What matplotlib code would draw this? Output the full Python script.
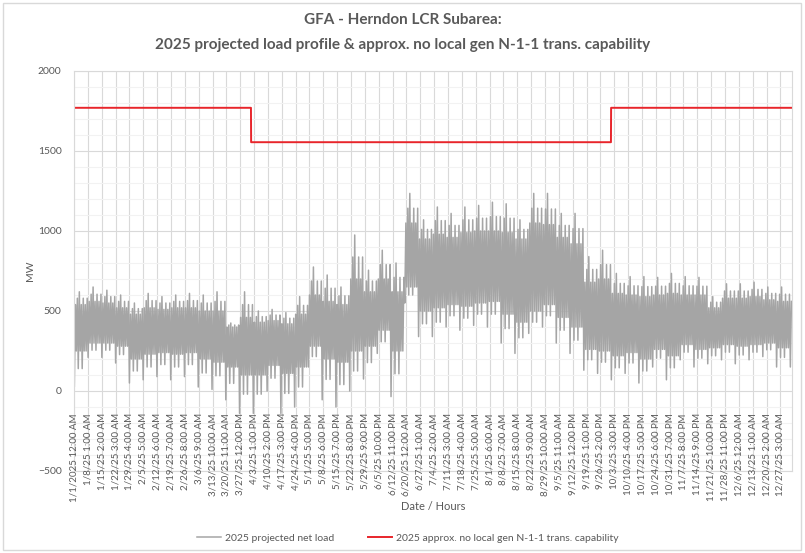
import numpy as np
import matplotlib
matplotlib.use("Agg")
import matplotlib.pyplot as plt
from matplotlib.patches import Rectangle

plt.rcParams['font.family'] = ['Lato', 'DejaVu Sans']

# weekly readings of the hourly net load (MW), week 1 .. week 52
hi_max = [620, 650, 630, 600, 550, 610, 590, 600, 610, 600, 620, 425, 620,
          500, 510, 490, 590, 775, 725, 650, 975, 755, 880, 800, 1235, 1070,
          1150, 1110, 1150, 1160, 1180, 1170, 1070, 1235, 1235, 1110, 1110, 840,
          880, 735, 715, 715, 710, 735, 715, 710, 590, 670, 670, 680, 650, 650]
hi_typ = [540, 560, 550, 520, 480, 520, 510, 520, 520, 500, 500, 400, 460,
          430, 440, 420, 480, 600, 560, 540, 700, 620, 700, 620, 1050, 950,
          980, 960, 990, 1000, 1000, 990, 950, 1050, 1040, 960, 920, 680,
          700, 610, 600, 590, 600, 610, 600, 600, 520, 580, 580, 590, 570, 560]
lo_typ = [250, 300, 300, 280, 200, 230, 240, 230, 240, 200, 180, 150, 100,
          100, 160, 110, 150, 280, 200, 180, 250, 280, 380, 250, 650, 500,
          520, 540, 530, 550, 560, 480, 430, 500, 540, 460, 400, 260,
          250, 220, 240, 200, 260, 220, 290, 260, 270, 290, 280, 290, 300, 270]
lo_min = [30, 210, 210, 175, 50, 70, 90, 70, 90, 25, 10, -55, -140,
          -140, 0, -140, -100, 150, -55, -100, 0, 75, 235, -35, 550, 340,
          340, 400, 380, 410, 400, 300, 235, 360, 400, 300, 235, 130,
          110, 70, 110, 50, 150, 70, 195, 150, 170, 195, 170, 195, 215, 150]

# monthly N-1-1 transmission capability (MW)
month_hours = [744, 672, 744, 720, 744, 720, 744, 744, 720, 744, 720, 744]
capability = [1770, 1770, 1770, 1555, 1555, 1555, 1555, 1555, 1555, 1770, 1770, 1770]

tick_labels = ["1/1/2025 12:00 AM", "1/8/25 1:00 AM", "1/15/25 2:00 AM", "1/22/25 3:00 AM",
               "1/29/25 4:00 AM", "2/5/25 5:00 AM", "2/12/25 6:00 AM", "2/19/25 7:00 AM",
               "2/26/25 8:00 AM", "3/6/25 9:00 AM", "3/13/25 10:00 AM", "3/20/25 11:00 AM",
               "3/27/25 12:00 PM", "4/3/25 1:00 PM", "4/10/25 2:00 PM", "4/17/25 3:00 PM",
               "4/24/25 4:00 PM", "5/1/25 5:00 PM", "5/8/25 6:00 PM", "5/15/25 7:00 PM",
               "5/22/25 8:00 PM", "5/29/25 9:00 PM", "6/5/25 10:00 PM", "6/12/25 11:00 PM",
               "6/20/25 12:00 AM", "6/27/25 1:00 AM", "7/4/25 2:00 AM", "7/11/25 3:00 AM",
               "7/18/25 4:00 AM", "7/25/25 5:00 AM", "8/1/25 6:00 AM", "8/8/25 7:00 AM",
               "8/15/25 8:00 AM", "8/22/25 9:00 AM", "8/29/25 10:00 AM", "9/5/25 11:00 AM",
               "9/12/25 12:00 PM", "9/19/25 1:00 PM", "9/26/25 2:00 PM", "10/3/25 3:00 PM",
               "10/10/25 4:00 PM", "10/17/25 5:00 PM", "10/24/25 6:00 PM", "10/31/25 7:00 PM",
               "11/7/25 8:00 PM", "11/14/25 9:00 PM", "11/21/25 10:00 PM", "11/28/25 11:00 PM",
               "12/6/25 12:00 AM", "12/13/25 1:00 AM", "12/20/25 2:00 AM", "12/27/25 3:00 AM"]

# daily trough / peak points built from the weekly readings
# which reading each day of the week uses: 0 = typical, 1 = between, 2 = extreme
peak_kind = [0, 1, 2, 0, 1, 0, 1]
trough_kind = [2, 0, 1, 0, 1, 0, 0]

hx, hy = [], []
for w in range(53):
    k = min(w, 51)
    his = [hi_typ[k], (hi_typ[k] + hi_max[k]) / 2, hi_max[k]]
    los = [lo_typ[k], (lo_typ[k] + lo_min[k]) / 2, lo_min[k]]
    for d in range(7):
        day = w * 7 + d
        if day > 364:
            break
        hx += [day * 24 + 4, day * 24 + 17]
        hy += [los[trough_kind[d]], his[peak_kind[d]]]

cap = np.repeat(capability, month_hours)
hours = np.arange(len(cap))

grey_txt = '#595959'
fig = plt.figure(figsize=(8.05, 5.53), dpi=100)
fig.patches.append(Rectangle((3 / 805, 3 / 553), 798 / 805, 547 / 553, transform=fig.transFigure,
                             fill=False, edgecolor='#D9D9D9', lw=1))
ax = fig.add_axes([74 / 805, 1 - 471 / 553, 718 / 805, 400 / 553])

ax.set_ylim(-500, 2000)
ax.set_xlim(0, 8760)
ax.set_yticks(np.arange(-500, 2001, 500))
ax.set_yticks(np.arange(-500, 2001, 100), minor=True)
ticks = np.arange(len(tick_labels)) * 169
ax.set_xticks(ticks)
ax.set_xticklabels([])
ax.grid(which='minor', axis='y', color='#F2F2F2', lw=0.8)
ax.grid(which='major', axis='y', color='#D9D9D9', lw=0.8)
ax.grid(which='major', axis='x', color='#D9D9D9', lw=0.8)
ax.set_axisbelow(True)
for s in ax.spines.values():
    s.set_color('#D9D9D9')
    s.set_linewidth(0.8)
ax.tick_params(axis='both', which='both', length=0)
ax.tick_params(axis='y', pad=9, labelsize=7.5, labelcolor=grey_txt)

ax.plot(hx, hy, color='#A5A5A5', lw=1.1, label='2025 projected net load')
ax.plot(hours, cap, color='#E8252B', lw=1.4, label='2025 approx. no local gen N-1-1 trans. capability')

for x, lbl in zip(ticks, tick_labels):
    ax.annotate(lbl, (x, 0), xytext=(0, -16), textcoords='offset points', rotation=90,
                ha='center', va='top', fontsize=7, color=grey_txt, annotation_clip=False)

fig.text(0.5, 1 - 20 / 553, 'GFA - Herndon LCR Subarea:', ha='center', va='center',
         fontsize=11, fontweight='bold', color=grey_txt)
fig.text(0.5, 1 - 45 / 553, '2025 projected load profile & approx. no local gen N-1-1 trans. capability',
         ha='center', va='center', fontsize=11, fontweight='bold', color=grey_txt)
fig.text(30 / 805, 1 - 271 / 553, 'MW', rotation=90, ha='center', va='center', fontsize=7.5, color=grey_txt)
fig.text(433 / 805, 1 - 507 / 553, 'Date / Hours', ha='center', va='center', fontsize=8, color=grey_txt)

fig.legend(loc='center', bbox_to_anchor=(408 / 805, 1 - 538 / 553), ncol=2, frameon=False,
           fontsize=7.5, labelcolor=grey_txt, handlelength=2.3, columnspacing=3.2, handletextpad=0.4)

fig.savefig('out.png', dpi=100)
